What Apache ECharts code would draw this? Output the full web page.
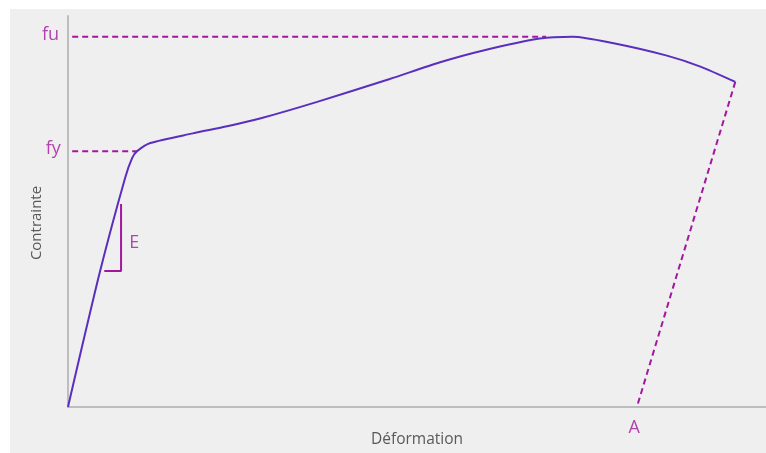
<!DOCTYPE html>
<html>
<head>
  <meta charset="UTF-8">
  <title>Contrainte - Déformation</title>
  <script src="https://cdn.jsdelivr.net/npm/echarts@6/dist/echarts.min.js"></script>
  <style>
    body { margin: 0; background: #fff; }
  </style>
</head>
<body>
  <div id="chart" style="width: 766px; height: 453px"></div>
  <script>
    // courbe contrainte-déformation (unités arbitraires, fu = 100)
    const courbe = [
      [0, 0], [4.6, 36.7], [8.2, 62.0], [9.2, 67.3], [9.9, 69.1], [11.8, 71.3],
      [17.9, 73.9], [22.8, 75.8], [27.5, 77.9], [35.7, 82.4], [46.1, 88.6],
      [53.3, 93.1], [59.5, 96.3], [67.6, 99.5], [72.3, 100], [78.0, 98.3],
      [85.8, 94.9], [90.5, 92.0], [95.6, 87.8]
    ];
    const ligneFy = [[0.6, 69.1], [9.9, 69.1]];
    const ligneFu = [[0.6, 100], [68.5, 100]];
    const dechargement = [[95.6, 87.8], [81.5, 0]];
    const triangleE = [[7.6, 54.8], [7.6, 36.7], [5.2, 36.7]];
    const etiquettes = [
      { nom: 'fu', pos: [-2.5, 100.5] },
      { nom: 'fy', pos: [-2.1, 69.6] },
      { nom: 'E', pos: [9.5, 44.3] },
      { nom: 'A', pos: [81.1, -5.6] }
    ];

    const violet = '#5a2fbe';
    const magenta = '#a3179f';

    const myChart = echarts.init(document.getElementById('chart'));
    const option = {
      animation: false,
      graphic: [
        {
          type: 'rect', z: -10, silent: true,
          shape: { x: 10, y: 9, width: 756, height: 444 },
          style: { fill: '#efefef' }
        },
        {
          // titre de l'axe vertical
          type: 'text', x: 37, y: 223, rotation: Math.PI / 2, silent: true,
          style: {
            text: 'Contrainte', fill: '#595959', fontSize: 15, fontFamily: 'Open Sans',
            align: 'center', verticalAlign: 'middle'
          }
        }
      ],
      grid: { left: 68, right: 0, top: 16, bottom: 40 },
      xAxis: {
        type: 'value', min: 0, max: 100,
        name: 'Déformation', nameLocation: 'middle', nameGap: 25,
        nameTextStyle: { color: '#595959', fontSize: 15.5, fontFamily: 'Open Sans' },
        axisLine: { show: true, lineStyle: { color: '#bdbdbd', width: 2 } },
        axisTick: { show: false }, axisLabel: { show: false }, splitLine: { show: false }
      },
      yAxis: {
        type: 'value', min: 0, max: 105.6,
        axisLine: { show: true, lineStyle: { color: '#bdbdbd', width: 2 } },
        axisTick: { show: false }, axisLabel: { show: false }, splitLine: { show: false }
      },
      series: [
        {
          type: 'line', data: courbe, smooth: 0.25, showSymbol: false, z: 5,
          lineStyle: { color: violet, width: 2 }
        },
        {
          type: 'line', data: ligneFy, showSymbol: false,
          lineStyle: { color: magenta, width: 2, type: [6, 4] }
        },
        {
          type: 'line', data: ligneFu, showSymbol: false,
          lineStyle: { color: magenta, width: 2, type: [6, 4] }
        },
        {
          type: 'line', data: dechargement, showSymbol: false,
          lineStyle: { color: magenta, width: 2, type: [6, 4] }
        },
        {
          type: 'line', data: triangleE, showSymbol: false,
          lineStyle: { color: magenta, width: 2 }
        },
        {
          type: 'scatter', symbolSize: 0, clip: false,
          data: etiquettes.map(e => ({ value: e.pos, name: e.nom })),
          label: {
            show: true, position: 'inside', formatter: '{b}',
            color: magenta, fontSize: 18, fontFamily: 'Open Sans'
          }
        }
      ]
    };
    myChart.setOption(option);
  </script>
</body>
</html>
